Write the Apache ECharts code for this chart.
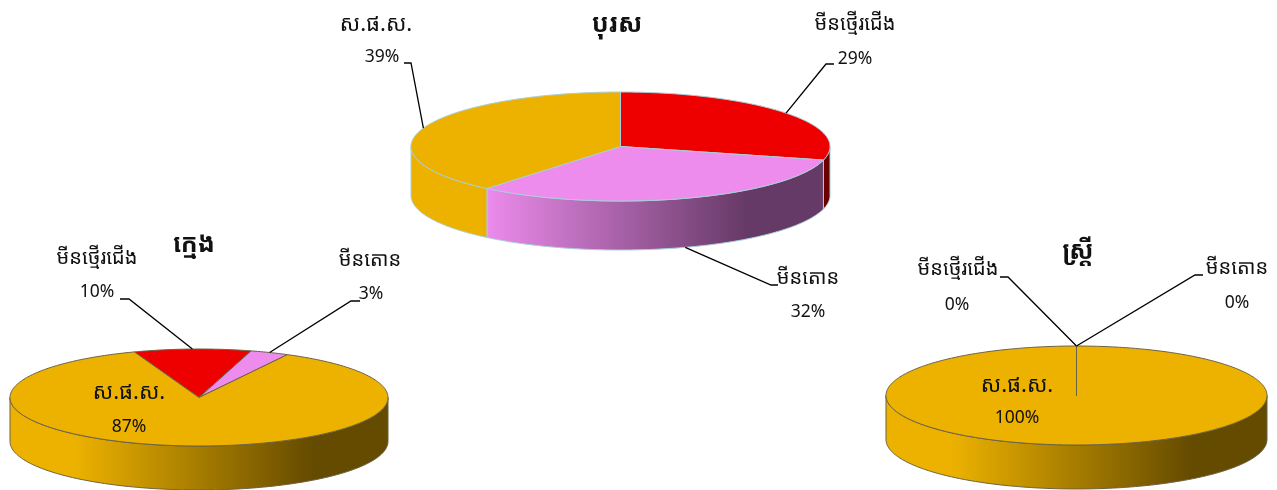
<!DOCTYPE html>
<html>
<head>
<meta charset="utf-8">
<style>
    html, body {margin: 0; padding: 0; background: #fff;}
    #chart {width: 1277px; height: 490px;}
</style>
<script src="https://cdn.jsdelivr.net/npm/echarts@6/dist/echarts.min.js"></script>
</head>
<body>
<div id="chart"></div>
<script>
// slice order is the same in all three pies
const categories = ['មីនថ្មើរជើង', 'មីនតោន', 'ស.ផ.ស.'];
const titles = ['បុរស', 'ក្មេង', 'ស្ត្រី'];
const menValues = [29, 32, 39];
const kidValues = [10, 3.3, 86.7]; // labelled 10 / 3 / 87, slices read a bit wider than 3%
const womenValues = [0, 0, 100];

const colors = ['#ee0000', '#ee8cee', '#edb200'];
const darkColors = ['#6a0000', '#663a66', '#654b00'];
const font = '"Noto Sans", "Noto Sans Khmer", "Khmer OS", "DejaVu Sans", sans-serif';

// where each pie sits, and its first slice angle (degrees clockwise from the top)
const pies = [
    {
        values: menValues, title: titles[0], titlePos: [617, 25],
        cx: 620.5, cy: 146.5, rx: 209.5, ry: 54.5, depth: 49, start: 0, stroke: '#a9cfd8',
        nameAt: [[855, 24], [808, 278], [376, 25]],
        valueAt: [[855, 59], [808, 312], [382, 57]],
        leader: [[[826, 64], [834, 64]], [[771, 285], [778, 285]], [[411, 63], [404, 63]]]
    },
    {
        values: kidValues, title: titles[1], titlePos: [194, 245],
        cx: 199, cy: 397.5, rx: 189, ry: 48.5, depth: 44, start: -20, stroke: '#6b6244',
        nameAt: [[97, 258], [370, 260], [129, 393]],
        valueAt: [[97, 292], [371, 294], [129, 427]],
        leader: [[[129, 299], [120, 299]], [[351, 301], [360, 301]], null]
    },
    {
        values: womenValues, title: titles[2], titlePos: [1078, 252],
        cx: 1076.5, cy: 395.5, rx: 190.5, ry: 49.5, depth: 44, start: 0, stroke: '#6b6244',
        nameAt: [[958, 269], [1237, 268], [1017, 386]],
        valueAt: [[957, 305], [1237, 303], [1017, 418]],
        leader: [[[1008, 277], [1000, 277]], [[1195, 275], [1203, 275]], null]
    }
];

function rimPoint(pie, deg, drop) {
    let a = deg * Math.PI / 180;
    return [pie.cx + pie.rx * Math.sin(a), pie.cy - pie.ry * Math.cos(a) + (drop || 0)];
}

function arcPoints(pie, from, to, drop) {
    let list = [];
    let steps = Math.max(1, Math.ceil(Math.abs(to - from)));
    for (let i = 0; i <= steps; i++) {
        list.push(rimPoint(pie, from + (to - from) * i / steps, drop));
    }
    return list;
}

// the part of a slice that shows on the front wall
function frontRange(from, to) {
    for (let k = -1; k <= 1; k++) {
        let lo = Math.max(from, 90 + 360 * k);
        let hi = Math.min(to, 270 + 360 * k);
        if (hi > lo) return [lo, hi];
    }
    return null;
}

function textEl(text, pos, size, weight) {
    return {
        type: 'text',
        z2: 10,
        style: {
            text: text, x: pos[0], y: pos[1], align: 'center', verticalAlign: 'middle',
            fill: '#111', font: (weight || 'normal') + ' ' + size + 'px ' + font
        }
    };
}

function renderSlice(pie, params, api) {
    let i = params.dataIndex;
    let value = api.value(0);
    let before = 0;
    for (let k = 0; k < i; k++) before += pie.values[k];
    let from = pie.start + before * 3.6;
    let to = from + value * 3.6;
    let mid = (from + to) / 2;
    let children = [];

    let front = frontRange(from, to);
    if (front) {
        let wall = arcPoints(pie, front[0], front[1]).concat(arcPoints(pie, front[1], front[0], pie.depth));
        children.push({
            type: 'polygon',
            z2: 1,
            shape: {points: wall},
            style: {
                fill: new echarts.graphic.LinearGradient(pie.cx - pie.rx, 0, pie.cx + pie.rx, 0, [
                    {offset: 0, color: colors[i]},
                    {offset: 0.17, color: colors[i]},
                    {offset: 0.8, color: darkColors[i]},
                    {offset: 1, color: darkColors[i]}
                ], true),
                stroke: pie.stroke, lineWidth: 1
            }
        });
    }

    children.push({
        type: 'polygon',
        z2: value === 0 ? 4 : 2,
        shape: {points: [[pie.cx, pie.cy]].concat(arcPoints(pie, from, to))},
        style: {fill: colors[i], stroke: pie.stroke, lineWidth: 1}
    });

    if (pie.leader[i]) {
        let m = ((mid % 360) + 360) % 360;
        let anchor = rimPoint(pie, mid, m > 90 && m < 270 ? pie.depth : 0);
        children.push({
            type: 'polyline',
            z2: 5,
            shape: {points: [anchor].concat(pie.leader[i])},
            style: {fill: null, stroke: '#000', lineWidth: 1.3}
        });
    }

    children.push(textEl(categories[i], pie.nameAt[i], i === 2 ? 22 : 20));
    children.push(textEl(Math.round(value) + '%', pie.valueAt[i], 17.5));
    return {type: 'group', children: children};
}

let chart = echarts.init(document.getElementById('chart'));
chart.setOption({
    animation: false,
    backgroundColor: '#fff',
    series: pies.map(function (pie) {
        return {
            type: 'custom',
            coordinateSystem: 'none',
            data: pie.values.map(function (v) { return [v]; }),
            renderItem: function (params, api) { return renderSlice(pie, params, api); }
        };
    }),
    graphic: pies.map(function (pie) {
        return textEl(pie.title, pie.titlePos, 25, 'bold');
    })
});
</script>
</body>
</html>
